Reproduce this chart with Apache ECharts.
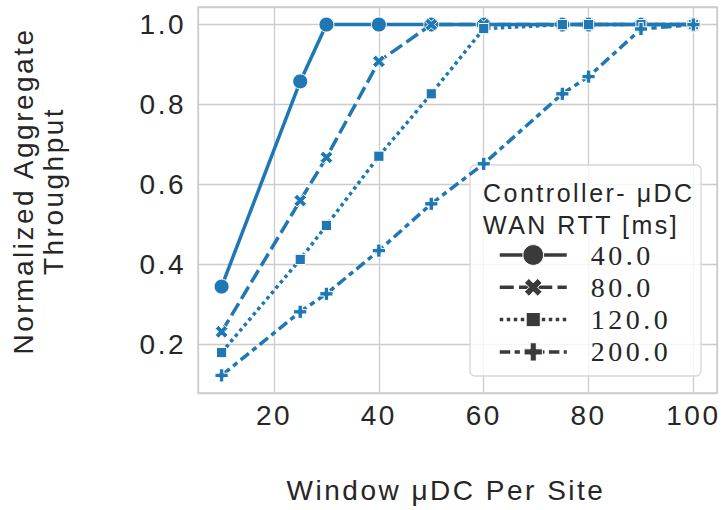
<!DOCTYPE html>
<html>
<head>
<meta charset="utf-8">
<script src="https://cdn.jsdelivr.net/npm/echarts@6/dist/echarts.min.js"></script>
<style>
  html, body { margin: 0; padding: 0; background: #ffffff; }
  #chart { width: 723px; height: 510px; }
  /* wide tracking on all chart text */
  #chart text { letter-spacing: 2.5px; }
  #chart text[style*="Serif"] { letter-spacing: 3.5px; }
</style>
</head>
<body>
<div id="chart"></div>
<script>
// Window size (μDC per site) on the x axis
const windowSizes = [10, 25, 30, 40, 50, 60, 75, 80, 90, 100];

// Normalized aggregate throughput per controller–μDC WAN RTT
const rtt40 = [0.345, 0.858, 1.0, 1.0, 1.0, 1.0, 1.0, 1.0, 1.0, 1.0];
const rtt80 = [0.232, 0.560, 0.668, 0.908, 1.0, 1.0, 1.0, 1.0, 1.0, 1.0];
const rtt120 = [0.180, 0.413, 0.498, 0.671, 0.827, 0.990, 1.0, 1.0, 1.0, 1.0];
const rtt200 = [0.123, 0.282, 0.327, 0.435, 0.552, 0.652, 0.827, 0.870, 0.989, 1.0];

const seriesNames = ['40.0', '80.0', '120.0', '200.0'];
const seriesValues = [rtt40, rtt80, rtt120, rtt200];

const BLUE = '#1f77b4';
const INK = '#262626';
const GRID = '#cccccc';

// filled marker outlines; the leading moveTo points pad the symbol box
const SYM_X = 'path://M0 0M100 100M50 28.75L71.25 7.5L92.5 28.75L71.25 50L92.5 71.25L71.25 92.5L50 71.25L28.75 92.5L7.5 71.25L28.75 50L7.5 28.75L28.75 7.5Z';
const SYM_SQUARE = 'path://M0 0M100 100M16 16L84 16L84 84L16 84Z';
const SYM_PLUS = 'path://M0 0M100 100M35.3 6L64.7 6L64.7 35.3L94 35.3L94 64.7L64.7 64.7L64.7 94L35.3 94L35.3 64.7L6 64.7L6 35.3L35.3 35.3Z';

const symbols = ['circle', SYM_X, SYM_SQUARE, SYM_PLUS];
const dashes = ['solid', [14, 5.25], [3.5, 3.5], [10.5, 4.4, 5.25, 4.4]];

const series = seriesNames.map((name, k) => ({
  type: 'line',
  name: name,
  data: windowSizes.map((x, i) => [x, seriesValues[k][i]]),
  symbol: symbols[k],
  symbolSize: 15,
  showAllSymbol: true,
  z: 2 + k,
  color: BLUE,
  lineStyle: { color: BLUE, width: 3.5, type: dashes[k], cap: 'butt' },
  itemStyle: { color: BLUE, borderColor: '#ffffff', borderWidth: 1 },
  emphasis: { disabled: true }
}));

const chart = echarts.init(document.getElementById('chart'), null, { renderer: 'svg', width: 723, height: 510 });

chart.setOption({
  animation: false,
  backgroundColor: '#ffffff',
  grid: {
    left: 198, top: 7, right: 6, bottom: 117,
    show: true, borderColor: GRID, borderWidth: 1.3,
    containLabel: false, outerBoundsMode: 'none'
  },
  xAxis: {
    type: 'value', min: 5.5, max: 104.5, splitNumber: 5,
    axisLine: { show: false }, axisTick: { show: false },
    axisLabel: {
      fontSize: 28, fontFamily: 'Liberation Sans', color: INK, margin: 8,
      showMinLabel: false, showMaxLabel: false
    },
    splitLine: { show: true, lineStyle: { color: GRID, width: 1.3 } }
  },
  yAxis: {
    type: 'value', min: 0.079, max: 1.044, splitNumber: 5,
    axisLine: { show: false }, axisTick: { show: false },
    axisLabel: {
      fontSize: 28, fontFamily: 'Liberation Sans', color: INK, margin: 12,
      showMinLabel: false, showMaxLabel: false,
      formatter: v => v.toFixed(1)
    },
    splitLine: { show: true, lineStyle: { color: GRID, width: 1.3 } }
  },
  legend: {
    orient: 'vertical', left: 498, top: 241, padding: 0,
    itemWidth: 67, itemHeight: 26, itemGap: 4.3,
    selectedMode: false, z: 6,
    data: seriesNames,
    itemStyle: { color: '#3a3a3a', borderColor: '#ffffff', borderWidth: 1 },
    lineStyle: { color: '#3a3a3a', width: 3.5 },
    formatter: name => '{v|' + name + '}',
    textStyle: {
      fontFamily: 'Liberation Serif', fontSize: 28, color: INK,
      rich: {
        v: {
          fontFamily: 'Liberation Serif', fontSize: 28, color: INK,
          padding: [0, 0, 0, 19]
        }
      }
    }
  },
  graphic: [
    {
      type: 'rect', z: 5,
      shape: { x: 470, y: 165, width: 231, height: 211, r: 5 },
      style: { fill: 'rgba(255,255,255,0.8)', stroke: '#d6d6d6', lineWidth: 1.3 }
    },
    {
      type: 'text', z: 7, left: 483, top: 177,
      style: {
        text: 'Controller- μDC\nWAN RTT [ms]',
        font: '25px "Liberation Sans"', fill: INK, lineHeight: 32
      }
    },
    {
      type: 'text', z: 7,
      x: 38, y: 191, rotation: Math.PI / 2,
      style: {
        text: 'Normalized Aggregate\nThroughput',
        font: '28px "Liberation Sans"', fill: INK, lineHeight: 30,
        align: 'center', verticalAlign: 'middle'
      }
    },
    {
      type: 'text', z: 7,
      x: 446, y: 490,
      style: {
        text: 'Window μDC Per Site',
        font: '28px "Liberation Sans"', fill: INK,
        align: 'center', verticalAlign: 'middle'
      }
    }
  ],
  series: series
});
</script>
</body>
</html>
